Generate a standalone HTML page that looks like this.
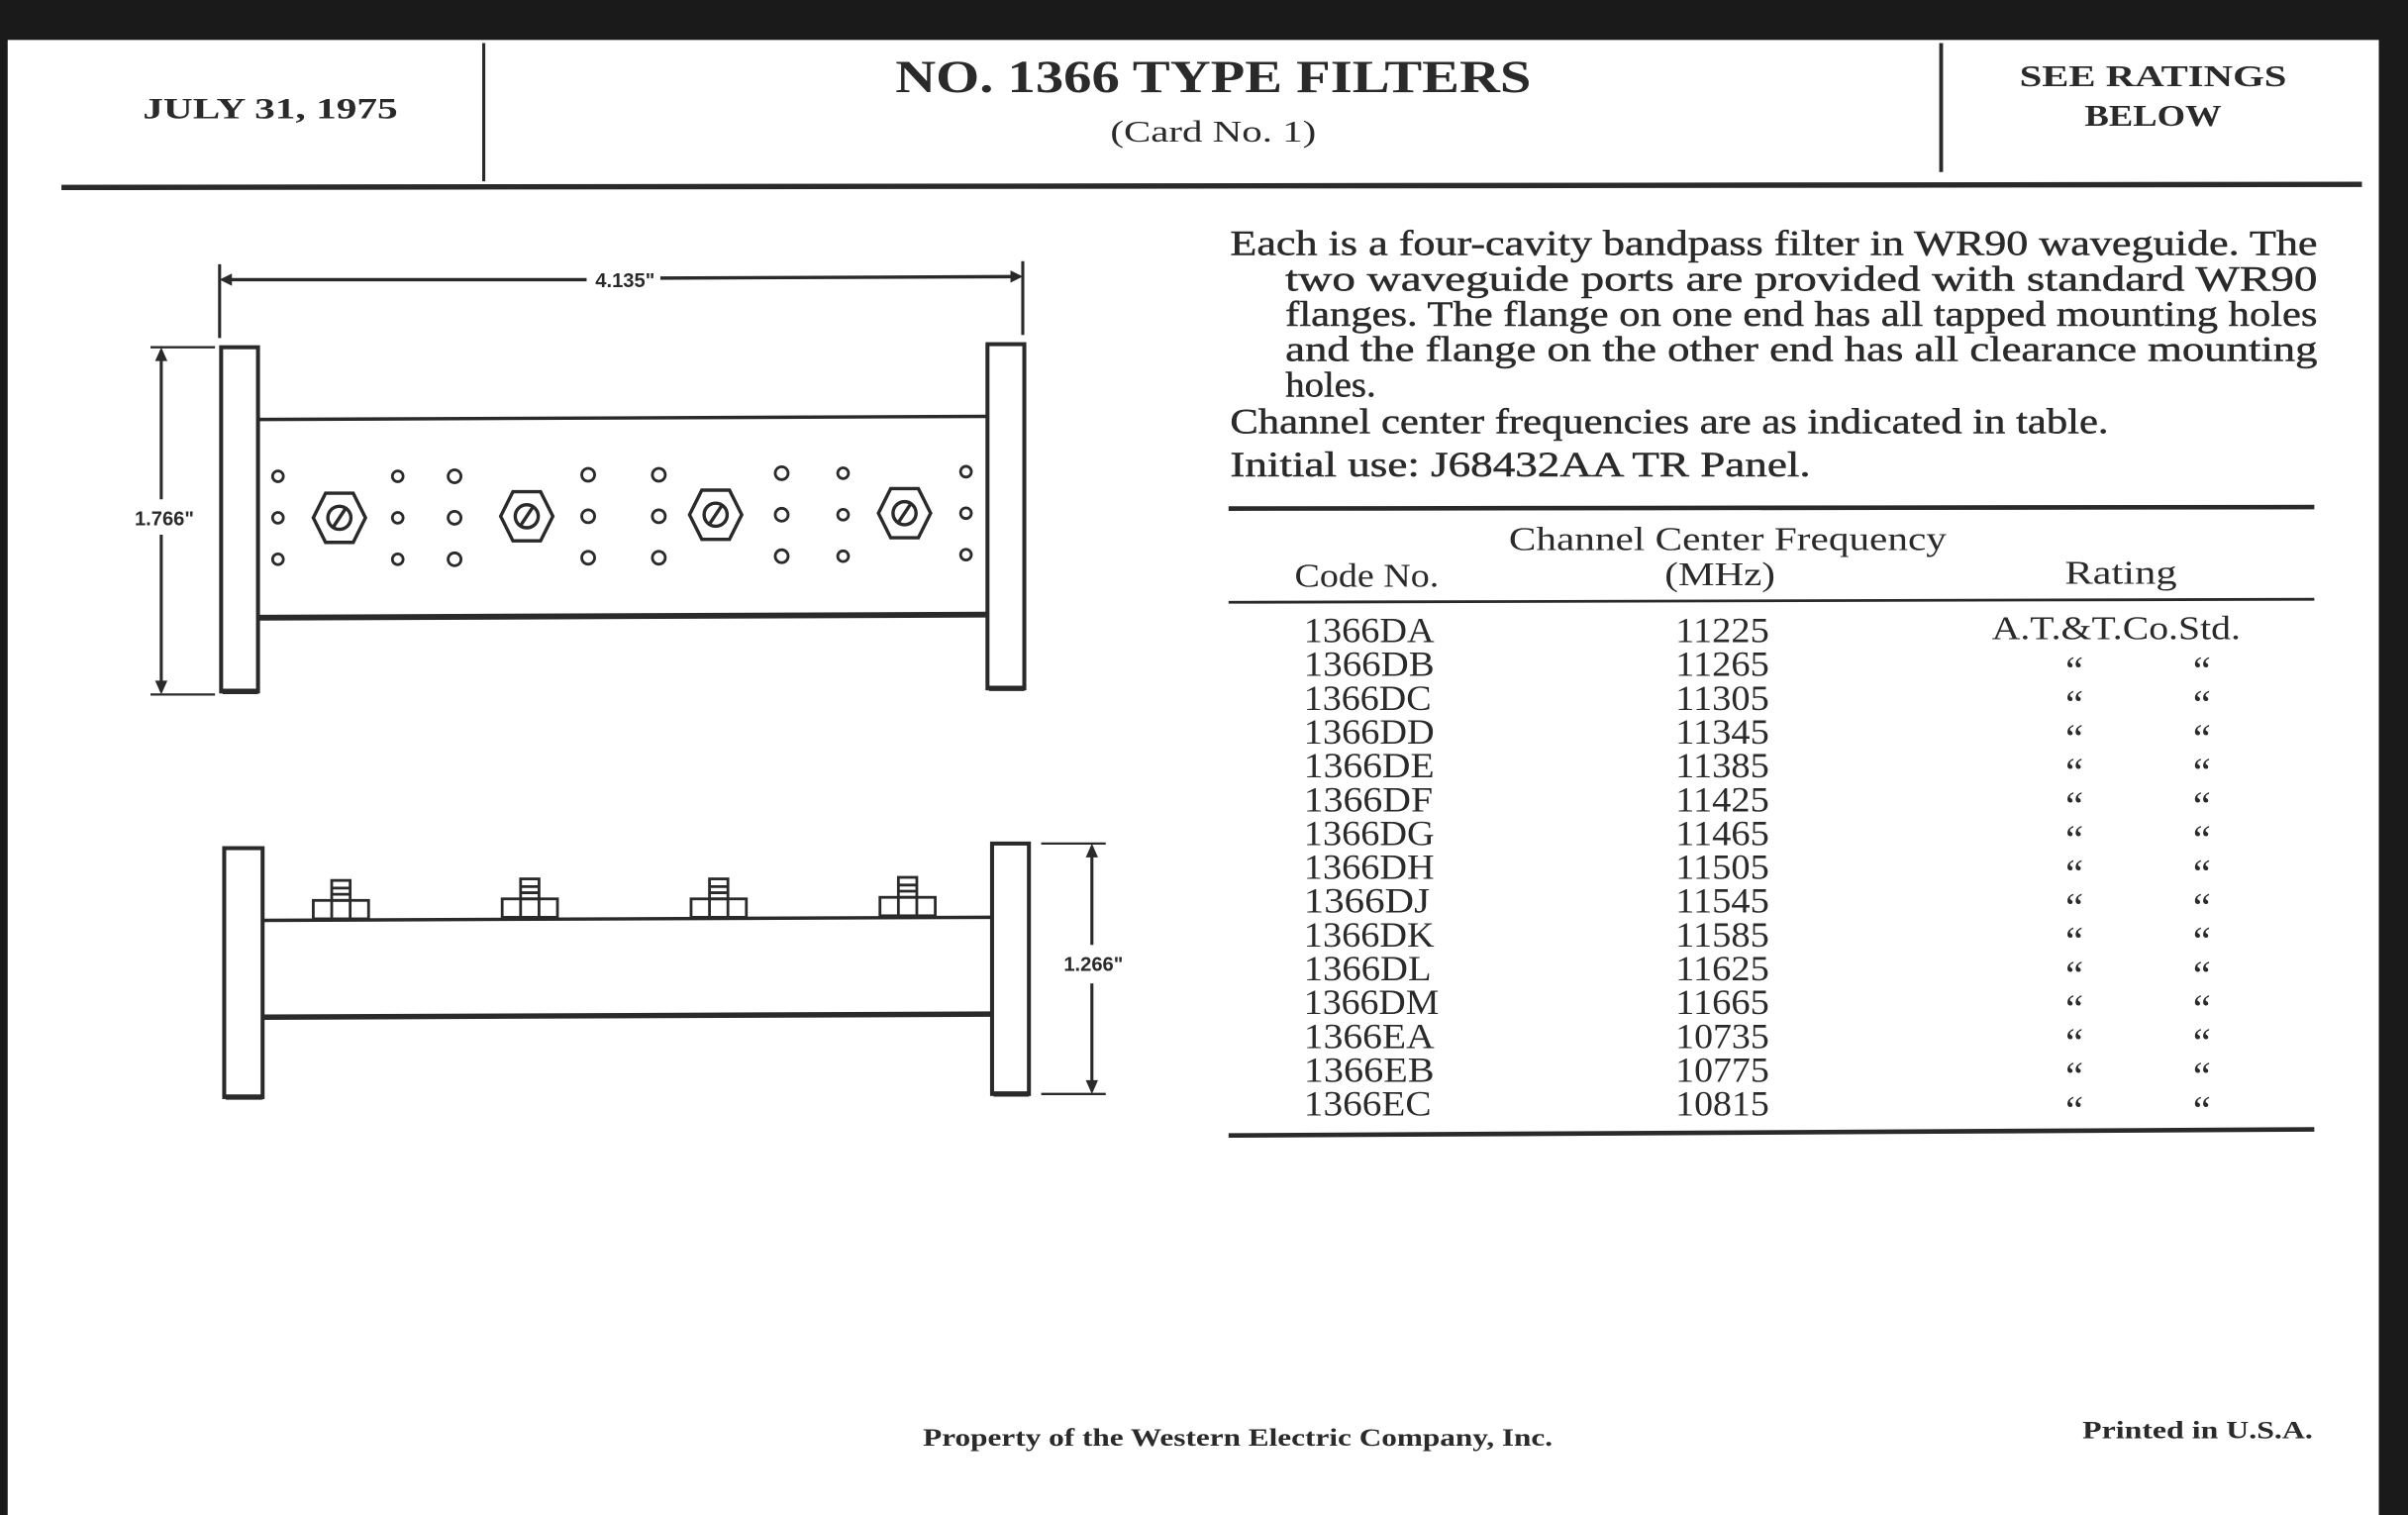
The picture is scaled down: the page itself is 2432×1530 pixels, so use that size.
<!DOCTYPE html>
<html><head><meta charset="utf-8"><style>
html,body{margin:0;padding:0;background:#fff;}
svg{display:block;}
text{font-family:"Liberation Serif",serif;fill:#2a2a2a;}
.b{font-weight:bold;}
.s{font-family:"Liberation Sans",sans-serif;font-weight:bold;}
</style></head><body>
<svg width="2432" height="1530" viewBox="0 0 1568 986" preserveAspectRatio="none" xmlns="http://www.w3.org/2000/svg">
<rect width="1568" height="986" fill="#fff"/>
<rect x="0" y="0" width="1568" height="26" fill="#1a1a1a"/>
<rect x="0" y="0" width="5" height="986" fill="#1a1a1a"/>
<rect x="1549" y="0" width="19" height="986" fill="#1a1a1a"/>
<g stroke="#2a2a2a" fill="none">
<line x1="315" y1="28" x2="315" y2="118" stroke-width="2"/>
<line x1="1264" y1="28" x2="1264" y2="112" stroke-width="2.5"/>
<line x1="40" y1="122" x2="1538" y2="120" stroke-width="3.5"/>
</g>
<text class="b" x="176" y="77" font-size="19" text-anchor="middle" textLength="166" lengthAdjust="spacingAndGlyphs">JULY 31, 1975</text>
<text class="b" x="790" y="60" font-size="30" text-anchor="middle" textLength="414" lengthAdjust="spacingAndGlyphs">NO. 1366 TYPE FILTERS</text>
<text x="790" y="92" font-size="20" text-anchor="middle" textLength="134" lengthAdjust="spacingAndGlyphs">(Card No. 1)</text>
<text class="b" x="1402" y="56" font-size="20" text-anchor="middle" textLength="174" lengthAdjust="spacingAndGlyphs">SEE RATINGS</text>
<text class="b" x="1402" y="82" font-size="20" text-anchor="middle" textLength="89" lengthAdjust="spacingAndGlyphs">BELOW</text>

<g font-size="23" stroke="#2a2a2a" stroke-width="0.3">
<text x="801" y="166" textLength="708" lengthAdjust="spacingAndGlyphs">Each is a four-cavity bandpass filter in WR90 waveguide.  The</text>
<text x="837" y="189" textLength="672" lengthAdjust="spacingAndGlyphs">two  waveguide  ports  are  provided  with  standard  WR90</text>
<text x="837" y="212" textLength="672" lengthAdjust="spacingAndGlyphs">flanges. The flange on one end has all tapped mounting holes</text>
<text x="837" y="235" textLength="672" lengthAdjust="spacingAndGlyphs">and the flange on the other end has all clearance mounting</text>
<text x="837" y="258" textLength="59" lengthAdjust="spacingAndGlyphs">holes.</text>
<text x="801" y="282" textLength="572" lengthAdjust="spacingAndGlyphs">Channel center frequencies are as indicated in table.</text>
<text x="801" y="310" textLength="378" lengthAdjust="spacingAndGlyphs">Initial use:  J68432AA TR Panel.</text>
</g>

<g stroke="#2a2a2a">
<line x1="800" y1="331" x2="1507" y2="330" stroke-width="3"/>
<line x1="800" y1="392" x2="1507" y2="390" stroke-width="1.8"/>
<line x1="800" y1="739" x2="1507" y2="735" stroke-width="3"/>
</g>
<g font-size="22">
<text x="1125" y="358" text-anchor="middle" textLength="285" lengthAdjust="spacingAndGlyphs">Channel Center Frequency</text>
<text x="1120" y="381" text-anchor="middle" textLength="72" lengthAdjust="spacingAndGlyphs">(MHz)</text>
<text x="890" y="382" text-anchor="middle" textLength="94" lengthAdjust="spacingAndGlyphs">Code No.</text>
<text x="1381" y="380" text-anchor="middle" textLength="73" lengthAdjust="spacingAndGlyphs">Rating</text>
<text x="1378" y="416" text-anchor="middle" textLength="162" lengthAdjust="spacingAndGlyphs">A.T.&amp;T.Co.Std.</text>
</g>
<g font-size="23">
<text x="849" y="418" textLength="85" lengthAdjust="spacingAndGlyphs">1366DA</text><text x="1091" y="418" textLength="61" lengthAdjust="spacingAndGlyphs">11225</text>
<text x="849" y="440" textLength="85" lengthAdjust="spacingAndGlyphs">1366DB</text><text x="1091" y="440" textLength="61" lengthAdjust="spacingAndGlyphs">11265</text>
<text x="849" y="462" textLength="83" lengthAdjust="spacingAndGlyphs">1366DC</text><text x="1091" y="462" textLength="61" lengthAdjust="spacingAndGlyphs">11305</text>
<text x="849" y="484" textLength="85" lengthAdjust="spacingAndGlyphs">1366DD</text><text x="1091" y="484" textLength="61" lengthAdjust="spacingAndGlyphs">11345</text>
<text x="849" y="506" textLength="85" lengthAdjust="spacingAndGlyphs">1366DE</text><text x="1091" y="506" textLength="61" lengthAdjust="spacingAndGlyphs">11385</text>
<text x="849" y="528" textLength="84" lengthAdjust="spacingAndGlyphs">1366DF</text><text x="1091" y="528" textLength="61" lengthAdjust="spacingAndGlyphs">11425</text>
<text x="849" y="550" textLength="85" lengthAdjust="spacingAndGlyphs">1366DG</text><text x="1091" y="550" textLength="61" lengthAdjust="spacingAndGlyphs">11465</text>
<text x="849" y="572" textLength="85" lengthAdjust="spacingAndGlyphs">1366DH</text><text x="1091" y="572" textLength="61" lengthAdjust="spacingAndGlyphs">11505</text>
<text x="849" y="594" textLength="82" lengthAdjust="spacingAndGlyphs">1366DJ</text><text x="1091" y="594" textLength="61" lengthAdjust="spacingAndGlyphs">11545</text>
<text x="849" y="616" textLength="85" lengthAdjust="spacingAndGlyphs">1366DK</text><text x="1091" y="616" textLength="61" lengthAdjust="spacingAndGlyphs">11585</text>
<text x="849" y="638" textLength="83" lengthAdjust="spacingAndGlyphs">1366DL</text><text x="1091" y="638" textLength="61" lengthAdjust="spacingAndGlyphs">11625</text>
<text x="849" y="660" textLength="88" lengthAdjust="spacingAndGlyphs">1366DM</text><text x="1091" y="660" textLength="61" lengthAdjust="spacingAndGlyphs">11665</text>
<text x="849" y="682" textLength="85" lengthAdjust="spacingAndGlyphs">1366EA</text><text x="1091" y="682" textLength="61" lengthAdjust="spacingAndGlyphs">10735</text>
<text x="849" y="704" textLength="85" lengthAdjust="spacingAndGlyphs">1366EB</text><text x="1091" y="704" textLength="61" lengthAdjust="spacingAndGlyphs">10775</text>
<text x="849" y="726" textLength="83" lengthAdjust="spacingAndGlyphs">1366EC</text><text x="1091" y="726" textLength="61" lengthAdjust="spacingAndGlyphs">10815</text>
</g>
<g font-size="26">
<text x="1345" y="445">“</text><text x="1428" y="445">“</text>
<text x="1345" y="467">“</text><text x="1428" y="467">“</text>
<text x="1345" y="489">“</text><text x="1428" y="489">“</text>
<text x="1345" y="511">“</text><text x="1428" y="511">“</text>
<text x="1345" y="533">“</text><text x="1428" y="533">“</text>
<text x="1345" y="555">“</text><text x="1428" y="555">“</text>
<text x="1345" y="577">“</text><text x="1428" y="577">“</text>
<text x="1345" y="599">“</text><text x="1428" y="599">“</text>
<text x="1345" y="621">“</text><text x="1428" y="621">“</text>
<text x="1345" y="643">“</text><text x="1428" y="643">“</text>
<text x="1345" y="665">“</text><text x="1428" y="665">“</text>
<text x="1345" y="687">“</text><text x="1428" y="687">“</text>
<text x="1345" y="709">“</text><text x="1428" y="709">“</text>
<text x="1345" y="731">“</text><text x="1428" y="731">“</text>
</g>

<text class="b" x="806" y="941" font-size="16" text-anchor="middle" textLength="410" lengthAdjust="spacingAndGlyphs">Property of the Western Electric Company, Inc.</text>
<text class="b" x="1506" y="936" font-size="16" text-anchor="end" textLength="150" lengthAdjust="spacingAndGlyphs">Printed in U.S.A.</text>

<!-- Top view -->
<g stroke="#2a2a2a" fill="none">
<line x1="143" y1="172" x2="143" y2="220" stroke-width="2"/>
<line x1="666" y1="170" x2="666" y2="218" stroke-width="2"/>
<line x1="145" y1="182" x2="382" y2="182" stroke-width="2.2"/>
<line x1="430" y1="181" x2="664" y2="180" stroke-width="2.2"/>
<line x1="98" y1="226" x2="140" y2="226" stroke-width="1.5"/>
<line x1="98" y1="452" x2="140" y2="452" stroke-width="1.5"/>
<line x1="105" y1="228" x2="105" y2="325" stroke-width="2"/>
<line x1="105" y1="348" x2="105" y2="450" stroke-width="2"/>
<rect x="144" y="226" width="24" height="224" stroke-width="2.6"/>
<rect x="643" y="224" width="24" height="224" stroke-width="2.6"/>
<line x1="168" y1="273" x2="643" y2="271" stroke-width="2.2"/>
<line x1="168" y1="402" x2="643" y2="400" stroke-width="3.8"/>
<line x1="145" y1="450" x2="168" y2="450" stroke-width="3.5"/>
<line x1="644" y1="448" x2="667" y2="448" stroke-width="3.5"/>
</g>
<g fill="#2a2a2a">
<polygon points="143,182 151,178 151,186"/>
<polygon points="666,180 658,176 658,184"/>
<polygon points="105,226 101,235 109,235"/>
<polygon points="105,452 101,443 109,443"/>
</g>
<text class="s" x="407" y="187" font-size="13" text-anchor="middle">4.135"</text>
<text class="s" x="107" y="342" font-size="13" text-anchor="middle">1.766"</text>
<g stroke="#2a2a2a" fill="none" stroke-width="1.8">
<circle cx="181" cy="310" r="3.5"/><circle cx="181" cy="337" r="3.5"/><circle cx="181" cy="364" r="3.5"/>
<circle cx="259" cy="310" r="3.5"/><circle cx="259" cy="337" r="3.5"/><circle cx="259" cy="364" r="3.5"/>
<circle cx="296" cy="310" r="4.2"/><circle cx="296" cy="337" r="4.2"/><circle cx="296" cy="364" r="4.2"/>
<circle cx="383" cy="309" r="4.2"/><circle cx="383" cy="336" r="4.2"/><circle cx="383" cy="363" r="4.2"/>
<circle cx="429" cy="309" r="4.2"/><circle cx="429" cy="336" r="4.2"/><circle cx="429" cy="363" r="4.2"/>
<circle cx="509" cy="308" r="4.2"/><circle cx="509" cy="335" r="4.2"/><circle cx="509" cy="362" r="4.2"/>
<circle cx="549" cy="308" r="3.5"/><circle cx="549" cy="335" r="3.5"/><circle cx="549" cy="362" r="3.5"/>
<circle cx="629" cy="307" r="3.5"/><circle cx="629" cy="334" r="3.5"/><circle cx="629" cy="361" r="3.5"/>
</g>
<g stroke="#2a2a2a" fill="none" stroke-width="2.2">
<g transform="translate(221,337)"><polygon points="-17,0 -9,-16 9,-16 17,0 9,16 -9,16"/><circle r="7.5"/><line x1="-4" y1="6" x2="4" y2="-6"/></g>
<g transform="translate(343,336)"><polygon points="-17,0 -9,-16 9,-16 17,0 9,16 -9,16"/><circle r="7.5"/><line x1="-4" y1="6" x2="4" y2="-6"/></g>
<g transform="translate(466,335)"><polygon points="-17,0 -9,-16 9,-16 17,0 9,16 -9,16"/><circle r="7.5"/><line x1="-4" y1="6" x2="4" y2="-6"/></g>
<g transform="translate(589,334)"><polygon points="-17,0 -9,-16 9,-16 17,0 9,16 -9,16"/><circle r="7.5"/><line x1="-4" y1="6" x2="4" y2="-6"/></g>
</g>

<!-- Side view -->
<g stroke="#2a2a2a" fill="none">
<rect x="146" y="552" width="25" height="162" stroke-width="2.6"/>
<rect x="646" y="549" width="24" height="163" stroke-width="2.6"/>
<line x1="147" y1="714" x2="171" y2="714" stroke-width="3.5"/>
<line x1="647" y1="712" x2="670" y2="712" stroke-width="3.5"/>
<line x1="171" y1="599" x2="646" y2="597" stroke-width="2.2"/>
<line x1="171" y1="662" x2="646" y2="660" stroke-width="3.5"/>
<line x1="678" y1="549" x2="720" y2="549" stroke-width="1.5"/>
<line x1="678" y1="712" x2="720" y2="712" stroke-width="1.5"/>
<line x1="711" y1="551" x2="711" y2="615" stroke-width="2"/>
<line x1="711" y1="640" x2="711" y2="710" stroke-width="2"/>
</g>
<g fill="#2a2a2a">
<polygon points="711,549 707,558 715,558"/>
<polygon points="711,712 707,703 715,703"/>
</g>
<text class="s" x="712" y="632" font-size="13" text-anchor="middle">1.266"</text>
<g stroke="#2a2a2a" fill="none" stroke-width="1.8">
<g transform="translate(222,598)"><rect x="-18" y="-12" width="36" height="12"/><line x1="-6" y1="-12" x2="-6" y2="0"/><line x1="6" y1="-12" x2="6" y2="0"/><rect x="-6" y="-25" width="12" height="13"/><line x1="-6" y1="-20" x2="6" y2="-20"/><line x1="-6" y1="-16" x2="6" y2="-16"/></g>
<g transform="translate(345,597)"><rect x="-18" y="-12" width="36" height="12"/><line x1="-6" y1="-12" x2="-6" y2="0"/><line x1="6" y1="-12" x2="6" y2="0"/><rect x="-6" y="-25" width="12" height="13"/><line x1="-6" y1="-20" x2="6" y2="-20"/><line x1="-6" y1="-16" x2="6" y2="-16"/></g>
<g transform="translate(468,597)"><rect x="-18" y="-12" width="36" height="12"/><line x1="-6" y1="-12" x2="-6" y2="0"/><line x1="6" y1="-12" x2="6" y2="0"/><rect x="-6" y="-25" width="12" height="13"/><line x1="-6" y1="-20" x2="6" y2="-20"/><line x1="-6" y1="-16" x2="6" y2="-16"/></g>
<g transform="translate(591,596)"><rect x="-18" y="-12" width="36" height="12"/><line x1="-6" y1="-12" x2="-6" y2="0"/><line x1="6" y1="-12" x2="6" y2="0"/><rect x="-6" y="-25" width="12" height="13"/><line x1="-6" y1="-20" x2="6" y2="-20"/><line x1="-6" y1="-16" x2="6" y2="-16"/></g>
</g>
</svg>
</body></html>
